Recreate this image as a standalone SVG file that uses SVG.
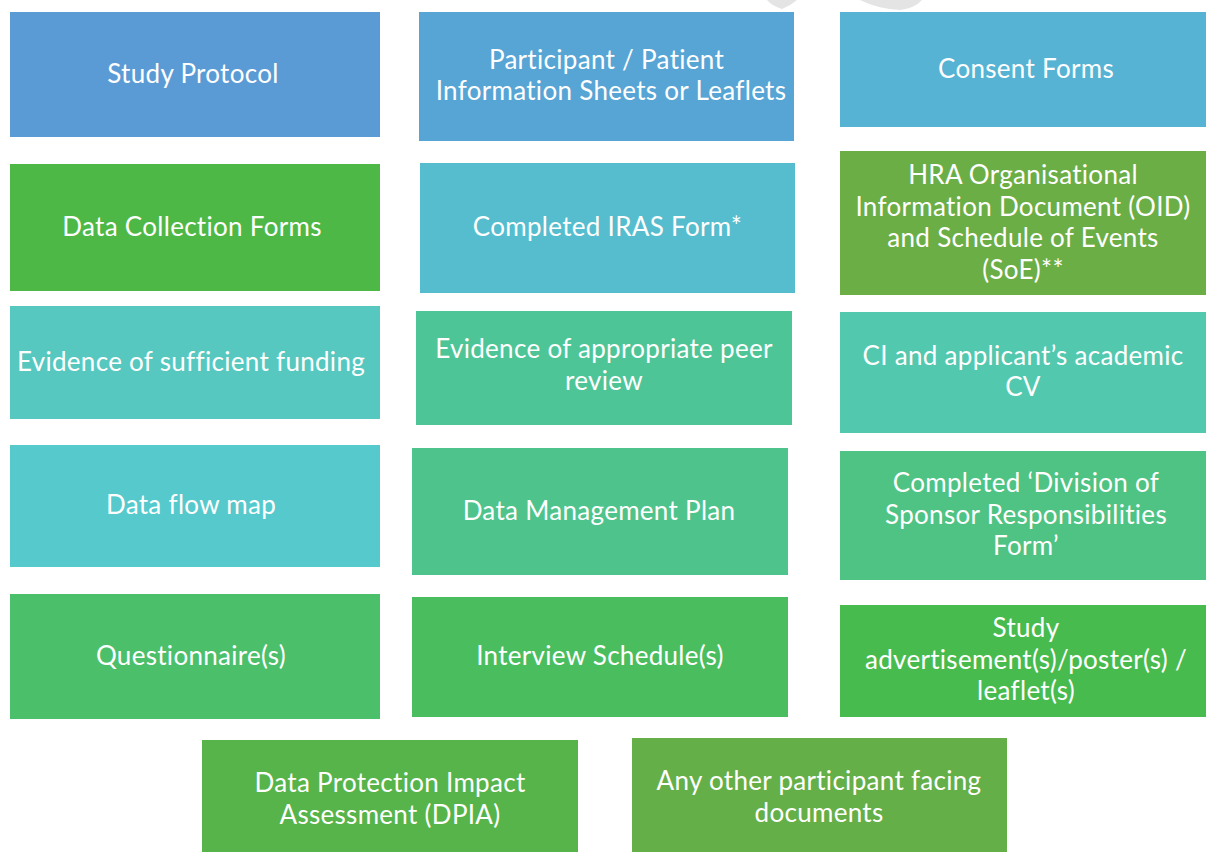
<svg xmlns="http://www.w3.org/2000/svg" width="1206" height="852" viewBox="0 0 1206 852">
  <style>
    .box { stroke: none; }
    .lbl { font-family: Lato, "Open Sans", "Liberation Sans", sans-serif; font-size: 26px; letter-spacing: 0.3px; fill: #ffffff; text-anchor: middle; }
    .mark { fill: #e4e4e4; }
  </style>
  <rect width="1206" height="852" fill="#ffffff"/>
  <!-- faint background mark along the top edge -->
  <g id="mark">
    <path class="mark" d="M767 0 L797 0 Q790 6 782 9 Q772 6 767 0 Z"/>
    <path class="mark" d="M860 0 L922 0 Q915 8 900 10 Q878 9 860 0 Z"/>
  </g>

  <g id="connectors"></g>

  <g id="study-protocol">
    <rect class="box" x="10" y="12" width="370" height="125" fill="#5B9BD5"/>
    <text class="lbl" x="193" y="83">Study Protocol</text>
  </g>
  <g id="participant-info">
    <rect class="box" x="419" y="12" width="375" height="129" fill="#57A5D5"/>
    <text class="lbl" x="606.5" y="69">Participant / Patient</text>
    <text class="lbl" x="611" y="100">Information Sheets or Leaflets</text>
  </g>
  <g id="consent-forms">
    <rect class="box" x="840" y="12" width="366" height="115" fill="#56B3D3"/>
    <text class="lbl" x="1026" y="78">Consent Forms</text>
  </g>

  <g id="data-collection">
    <rect class="box" x="10" y="164" width="370" height="127" fill="#4EB847"/>
    <text class="lbl" x="192" y="236">Data Collection Forms</text>
  </g>
  <g id="iras-form">
    <rect class="box" x="420" y="163" width="375" height="130" fill="#55BDCE"/>
    <text class="lbl" x="607.5" y="236">Completed IRAS Form*</text>
  </g>
  <g id="hra-oid">
    <rect class="box" x="840" y="151" width="366" height="144" fill="#6BAE46"/>
    <text class="lbl" x="1023" y="184">HRA Organisational</text>
    <text class="lbl" x="1023" y="216">Information Document (OID)</text>
    <text class="lbl" x="1023" y="247">and Schedule of Events</text>
    <text class="lbl" x="1023" y="279">(SoE)**</text>
  </g>

  <g id="funding">
    <rect class="box" x="10" y="306" width="370" height="113" fill="#56C8BF"/>
    <text class="lbl" x="191" y="371">Evidence of sufficient funding</text>
  </g>
  <g id="peer-review">
    <rect class="box" x="416" y="311" width="376" height="114" fill="#4EC597"/>
    <text class="lbl" x="604" y="358">Evidence of appropriate peer</text>
    <text class="lbl" x="604" y="390">review</text>
  </g>
  <g id="academic-cv">
    <rect class="box" x="840" y="312" width="366" height="121" fill="#52C8AF"/>
    <text class="lbl" x="1023" y="365">CI and applicant’s academic</text>
    <text class="lbl" x="1023" y="396">CV</text>
  </g>

  <g id="data-flow">
    <rect class="box" x="10" y="445" width="370" height="122" fill="#55C9CC"/>
    <text class="lbl" x="191" y="514">Data flow map</text>
  </g>
  <g id="data-management">
    <rect class="box" x="412" y="448" width="376" height="127" fill="#4EC48C"/>
    <text class="lbl" x="599" y="520">Data Management Plan</text>
  </g>
  <g id="sponsor-responsibilities">
    <rect class="box" x="840" y="451" width="366" height="129" fill="#4FC383"/>
    <text class="lbl" x="1026" y="492">Completed ‘Division of</text>
    <text class="lbl" x="1026" y="524">Sponsor Responsibilities</text>
    <text class="lbl" x="1026" y="555">Form’</text>
  </g>

  <g id="questionnaires">
    <rect class="box" x="10" y="594" width="370" height="125" fill="#4BBF6A"/>
    <text class="lbl" x="191" y="665">Questionnaire(s)</text>
  </g>
  <g id="interview-schedules">
    <rect class="box" x="412" y="597" width="376" height="120" fill="#4ABE5F"/>
    <text class="lbl" x="600" y="665">Interview Schedule(s)</text>
  </g>
  <g id="advertisements">
    <rect class="box" x="840" y="605" width="366" height="112" fill="#48BB4E"/>
    <text class="lbl" x="1026" y="637">Study</text>
    <text class="lbl" x="1026" y="669">advertisement(s)/poster(s) /</text>
    <text class="lbl" x="1026" y="700">leaflet(s)</text>
  </g>

  <g id="dpia">
    <rect class="box" x="202" y="740" width="376" height="112" fill="#56B44A"/>
    <text class="lbl" x="390" y="792">Data Protection Impact</text>
    <text class="lbl" x="390" y="824">Assessment (DPIA)</text>
  </g>
  <g id="other-documents">
    <rect class="box" x="632" y="738" width="375" height="114" fill="#65AF48"/>
    <text class="lbl" x="819" y="790">Any other participant facing</text>
    <text class="lbl" x="819" y="822">documents</text>
  </g>
</svg>
